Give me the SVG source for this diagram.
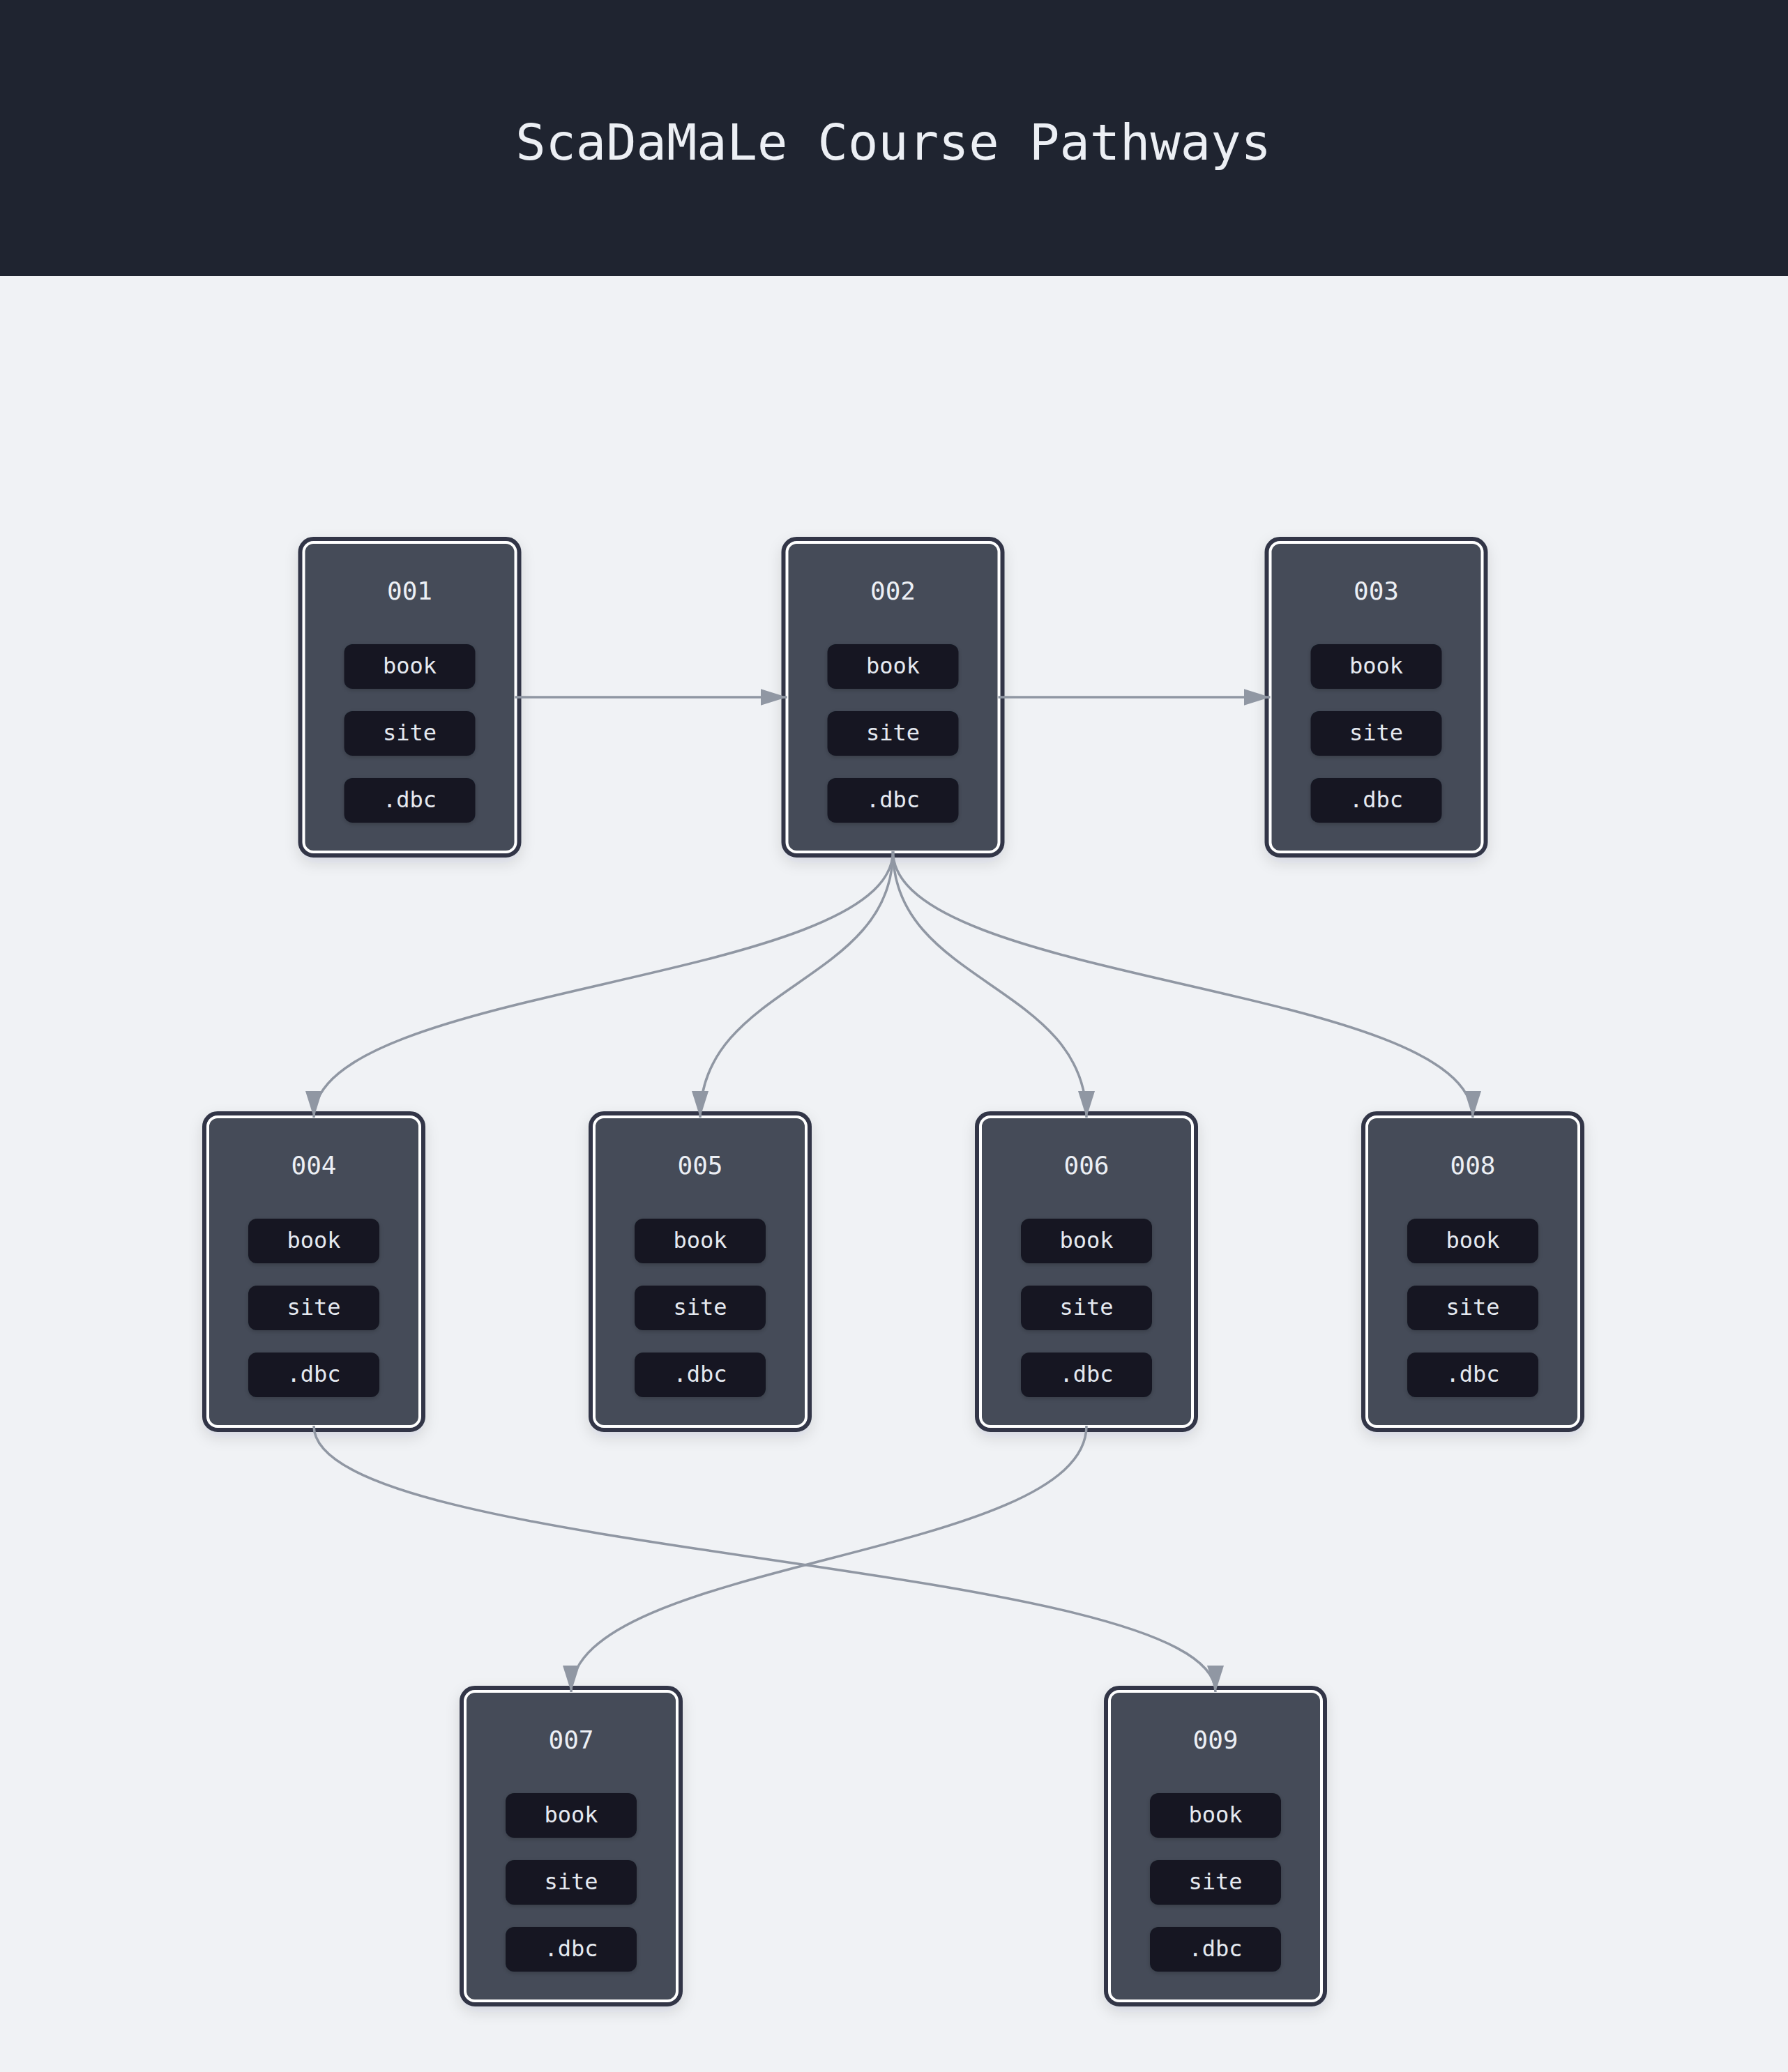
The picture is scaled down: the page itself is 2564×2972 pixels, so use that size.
<svg xmlns="http://www.w3.org/2000/svg" width="2564" height="2972" viewBox="0 0 2564 2972">
  <style>
    .box { fill: #444b59; stroke: #303646; stroke-width: 6; }
    .inner { fill: none; stroke: #ffffff; stroke-width: 4; }
    .title { font-family: "DejaVu Sans Mono", "Liberation Mono", monospace; font-size: 36px; fill: #eceff4; text-anchor: middle; }
    .pill { fill: #141823; }
    .pt { font-family: "DejaVu Sans Mono", "Liberation Mono", monospace; font-size: 32px; fill: #e5e9f0; text-anchor: middle; }
    .edge { fill: none; stroke: #9097a3; stroke-width: 3.5; marker-end: url(#arrow); }
    .head { font-family: "DejaVu Sans Mono", "Liberation Mono", monospace; font-size: 72px; fill: #eceff4; text-anchor: middle; }
  </style>
  <defs>
    <marker id="arrow" markerUnits="userSpaceOnUse" viewBox="0 0 38 24" markerWidth="38" markerHeight="24" refX="38" refY="12" orient="auto">
      <path d="M0,0 L38,12 L0,24 z" fill="#9097a3"/>
    </marker>
    <filter id="shadow" x="-20%" y="-20%" width="140%" height="140%">
      <feDropShadow dx="0" dy="8" stdDeviation="10" flood-color="#1e2330" flood-opacity="0.12"/>
    </filter>
    <filter id="pshadow" x="-20%" y="-20%" width="140%" height="160%">
      <feDropShadow dx="0" dy="2" stdDeviation="3" flood-color="#000000" flood-opacity="0.2"/>
    </filter>
    <g id="chips">
      <rect class="pill" x="66" y="154" width="188" height="64" rx="12" filter="url(#pshadow)"/>
      <text class="pt" x="160" y="196">book</text>
      <rect class="pill" x="66" y="250" width="188" height="64" rx="12" filter="url(#pshadow)"/>
      <text class="pt" x="160" y="292">site</text>
      <rect class="pill" x="66" y="346" width="188" height="64" rx="12" filter="url(#pshadow)"/>
      <text class="pt" x="160" y="388">.dbc</text>
    </g>
  </defs>

  <rect x="0" y="0" width="2564" height="2972" fill="#f0f2f5"/>
  <rect x="0" y="0" width="2564" height="396" fill="#1f2430"/>
  <text class="head" x="1281" y="229">ScaDaMaLe Course Pathways</text>

  <g id="node-001" transform="translate(427.5,770)">
    <rect class="box" x="3" y="3" width="314" height="454" rx="19" filter="url(#shadow)"/>
    <rect class="inner" x="8" y="8" width="304" height="444" rx="14"/>
    <text class="title" x="160" y="90">001</text>
    <use href="#chips"/>
  </g>
  <g id="node-002" transform="translate(1120.5,770)">
    <rect class="box" x="3" y="3" width="314" height="454" rx="19" filter="url(#shadow)"/>
    <rect class="inner" x="8" y="8" width="304" height="444" rx="14"/>
    <text class="title" x="160" y="90">002</text>
    <use href="#chips"/>
  </g>
  <g id="node-003" transform="translate(1813.5,770)">
    <rect class="box" x="3" y="3" width="314" height="454" rx="19" filter="url(#shadow)"/>
    <rect class="inner" x="8" y="8" width="304" height="444" rx="14"/>
    <text class="title" x="160" y="90">003</text>
    <use href="#chips"/>
  </g>
  <g id="node-004" transform="translate(290,1594)">
    <rect class="box" x="3" y="3" width="314" height="454" rx="19" filter="url(#shadow)"/>
    <rect class="inner" x="8" y="8" width="304" height="444" rx="14"/>
    <text class="title" x="160" y="90">004</text>
    <use href="#chips"/>
  </g>
  <g id="node-005" transform="translate(844,1594)">
    <rect class="box" x="3" y="3" width="314" height="454" rx="19" filter="url(#shadow)"/>
    <rect class="inner" x="8" y="8" width="304" height="444" rx="14"/>
    <text class="title" x="160" y="90">005</text>
    <use href="#chips"/>
  </g>
  <g id="node-006" transform="translate(1398,1594)">
    <rect class="box" x="3" y="3" width="314" height="454" rx="19" filter="url(#shadow)"/>
    <rect class="inner" x="8" y="8" width="304" height="444" rx="14"/>
    <text class="title" x="160" y="90">006</text>
    <use href="#chips"/>
  </g>
  <g id="node-008" transform="translate(1952,1594)">
    <rect class="box" x="3" y="3" width="314" height="454" rx="19" filter="url(#shadow)"/>
    <rect class="inner" x="8" y="8" width="304" height="444" rx="14"/>
    <text class="title" x="160" y="90">008</text>
    <use href="#chips"/>
  </g>
  <g id="node-007" transform="translate(659,2418)">
    <rect class="box" x="3" y="3" width="314" height="454" rx="19" filter="url(#shadow)"/>
    <rect class="inner" x="8" y="8" width="304" height="444" rx="14"/>
    <text class="title" x="160" y="90">007</text>
    <use href="#chips"/>
  </g>
  <g id="node-009" transform="translate(1583,2418)">
    <rect class="box" x="3" y="3" width="314" height="454" rx="19" filter="url(#shadow)"/>
    <rect class="inner" x="8" y="8" width="304" height="444" rx="14"/>
    <text class="title" x="160" y="90">009</text>
    <use href="#chips"/>
  </g>

  <g id="connectors">
    <path class="edge" d="M738.5,1000 L1128.5,1000"/>
    <path class="edge" d="M1431.5,1000 L1821.5,1000"/>
    <path class="edge" d="M1280.5,1221 C1280.5,1411.5 450,1411.5 450,1603"/>
    <path class="edge" d="M1280.5,1221 C1280.5,1411.5 1004,1411.5 1004,1603"/>
    <path class="edge" d="M1280.5,1221 C1280.5,1411.5 1558,1411.5 1558,1603"/>
    <path class="edge" d="M1280.5,1221 C1280.5,1411.5 2112,1411.5 2112,1603"/>
    <path class="edge" d="M450,2045 C450,2236 1743,2236 1743,2427"/>
    <path class="edge" d="M1558,2045 C1558,2236 819,2236 819,2427"/>
  </g>
</svg>
